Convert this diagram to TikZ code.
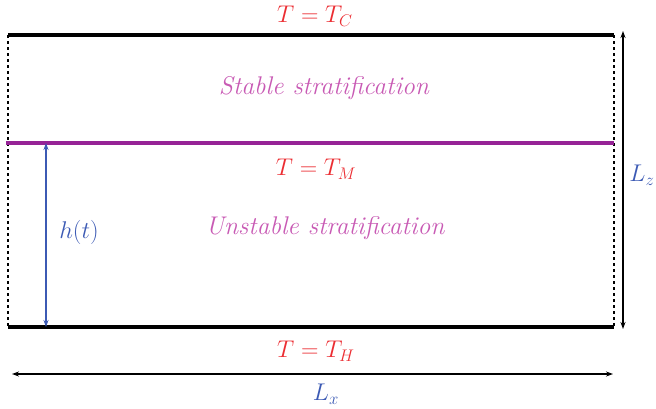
\documentclass[tikz,border=0pt]{standalone}
\usepackage{amsmath}
\usetikzlibrary{arrows.meta}
\definecolor{tred}{RGB}{235,45,50}
\definecolor{dimblue}{RGB}{60,90,180}
\definecolor{ifacepurple}{RGB}{150,35,150}
\definecolor{layerpink}{RGB}{200,90,180}
\tikzset{
  wall/.style={line width=4pt},
  dimarrow/.style={{Stealth[length=7pt,width=5pt]}-{Stealth[length=7pt,width=5pt]},line width=1.2pt},
  lbl/.style={scale=1.4},
  templabel/.style={lbl,text=tred},
  layerlabel/.style={scale=1.48,text=layerpink,font=\LARGE\itshape}
}
\begin{document}
\begin{tikzpicture}[x=1pt,y=-1pt,font=\LARGE]
\useasboundingbox (0,0) rectangle (656,408);
% box
\coordinate (tl) at (8,35);\coordinate (tr) at (614,35);
\coordinate (bl) at (8,327);\coordinate (br) at (614,327);
\coordinate (ml) at (6,143);\coordinate (mr) at (614,143);
\draw[line width=1.2pt,dash pattern=on 3pt off 3pt] (tl)--(bl) (tr)--(br);
\draw[wall] (tl)--(tr);\draw[wall] (bl)--(br);
\draw[ifacepurple,line width=3.5pt] (ml)--(mr);
% labels
\node[templabel] (tc) at (315,16) {$T=T_C$};
\node[templabel] (tm) at (316,169) {$T=T_M$};
\node[templabel] (th) at (316,351) {$T=T_H$};
\node[layerlabel] (stable) at (324,88) {Stable stratification};
\node[layerlabel] (unstable) at (325,228) {Unstable stratification};
% dimensions
\coordinate (hb) at (46,327);\coordinate (ht) at (46,143);
\draw[dimarrow,dimblue] (hb)--(ht);
\node[lbl,text=dimblue] (hlab) at (79,232) {$h(t)$};
\coordinate (zt) at (623,31);\coordinate (zb) at (623,329);
\draw[dimarrow] (zt)--(zb);
\node[lbl,text=dimblue] (zlab) at (642,175) {$L_z$};
\coordinate (xl) at (12,374);\coordinate (xr) at (613,374);
\draw[dimarrow] (xl)--(xr);
\node[lbl,text=dimblue] (xlab) at (326,394) {$L_x$};
\end{tikzpicture}
\end{document}
